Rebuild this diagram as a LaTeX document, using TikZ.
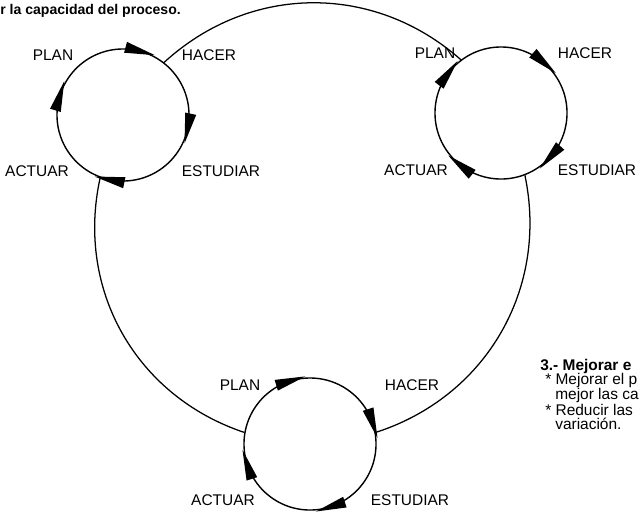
\documentclass[tikz,border=0pt]{standalone}
\usepackage{fontspec}
\setmainfont{Liberation Sans}
\usetikzlibrary{decorations.markings}

% punta de flecha sobre cada ciclo (sentido horario)
\newcommand{\flecha}{\fill (-0.38cm,0) -- (0.38cm,0.14cm) -- (0.38cm,-0.14cm) -- cycle;}

\begin{document}
\begin{tikzpicture}[x=0.025cm, y=0.025cm,
    ciclo/.style n args={4}{circle, draw, line width=1pt, minimum size=3.3cm, inner sep=0pt,
        postaction={decorate}, decoration={markings,
            mark=at position #1 with {\flecha},
            mark=at position #2 with {\flecha},
            mark=at position #3 with {\flecha},
            mark=at position #4 with {\flecha}}},
    etiqueta/.style={font=\fontsize{11}{13}\selectfont, inner sep=0pt},
    nota/.style={font=\fontsize{11}{13}\selectfont, anchor=west, inner sep=0pt}]
    % Marco de la figura
    \useasboundingbox (0,0) rectangle (643,-514);

    % 1. Texto superior
    \node[anchor=west, inner sep=0pt, font=\bfseries\fontsize{10}{12}\selectfont] (titulo) at (0,-11) {r la capacidad del proceso.};

    % 2. Los tres ciclos PHEA
    \node[ciclo={0.208}{0.453}{0.717}{0.967}] (ciclo1) at (123,-115) {};
    \node[ciclo={0.136}{0.397}{0.644}{0.883}] (ciclo2) at (501,-113) {};
    \node[ciclo={0.05}{0.297}{0.55}{0.8}] (ciclo3) at (310,-444) {};

    % Ciclo de arriba a la izquierda
    \node[etiqueta] (plan1) at (53,-55) {PLAN};
    \node[etiqueta] (hacer1) at (209,-55) {HACER};
    \node[etiqueta] (actuar1) at (37,-171) {ACTUAR};
    \node[etiqueta] (estudiar1) at (221,-171) {ESTUDIAR};

    % Ciclo de arriba a la derecha
    \node[etiqueta] (plan2) at (435,-53) {PLAN};
    \node[etiqueta] (hacer2) at (585,-53) {HACER};
    \node[etiqueta] (actuar2) at (416,-170) {ACTUAR};
    \node[etiqueta] (estudiar2) at (597,-170) {ESTUDIAR};

    % Ciclo de abajo
    \node[etiqueta] (plan3) at (240,-385) {PLAN};
    \node[etiqueta] (hacer3) at (412,-385) {HACER};
    \node[etiqueta] (actuar3) at (223,-500) {ACTUAR};
    \node[etiqueta] (estudiar3) at (410,-500) {ESTUDIAR};

    % 3. El ciclo grande que une los tres
    \draw[line width=0.9pt] (ciclo1.52) to[bend left=42] (ciclo2.127);
    \draw[line width=0.9pt] (ciclo2.-69) to[bend left=42] (ciclo3.10);
    \draw[line width=0.9pt] (ciclo3.170) to[bend left=42] (ciclo1.250);

    % 4. Nota de la derecha
    \node[nota, font=\bfseries\fontsize{11}{13}\selectfont] (mejora) at (540,-366) {3.- Mejorar e};
    \node[nota] (punto1) at (545,-380) {* Mejorar el p};
    \node[nota] (punto1b) at (555,-395) {mejor las ca};
    \node[nota] (punto2) at (545,-410) {* Reducir las};
    \node[nota] (punto2b) at (555,-424) {variación.};
\end{tikzpicture}
\end{document}
